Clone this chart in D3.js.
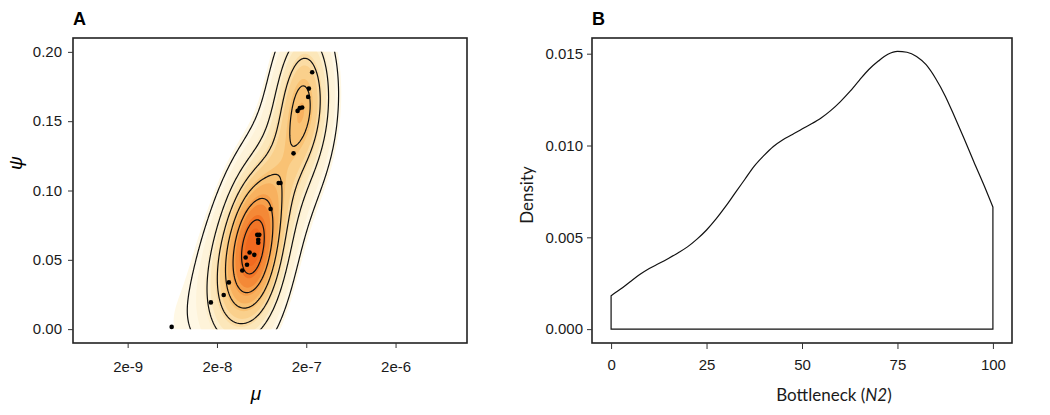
<!DOCTYPE html>
<html>
<head>
<meta charset="utf-8">
<script src="https://cdn.jsdelivr.net/npm/d3@7"></script>
<style>
  body { margin: 0; background: #fff; }
  svg { display: block; }
  .tick line { stroke: #333; }
</style>
</head>
<body>
<svg id="chart" width="1050" height="415"></svg>
<script>
// panel A: posterior samples (mu, psi)
var muValues = [6.22e-9, 1.71e-8, 2.38e-8, 2.72e-8, 3.84e-8, 4.34e-8, 4.19e-8, 4.64e-8,
                5.24e-8, 5.65e-8, 5.96e-8, 5.80e-8, 5.80e-8, 7.98e-8, 9.82e-8, 1.03e-7,
                1.44e-7, 1.60e-7, 1.69e-7, 1.80e-7, 2.10e-7, 2.14e-7, 2.33e-7];
var psiValues = [0.0016, 0.0193, 0.0246, 0.0337, 0.0423, 0.0464, 0.0517, 0.0553,
                 0.0536, 0.0680, 0.0680, 0.0644, 0.0624, 0.0867, 0.1054, 0.1054,
                 0.1268, 0.1574, 0.1594, 0.1599, 0.1675, 0.1735, 0.1853];
var muTicks = [2e-9, 2e-8, 2e-7, 2e-6];
var psiTicks = [0, 0.05, 0.10, 0.15, 0.20];

// panel B: density of bottleneck N2
var bottleneck = [0, 2.5, 5, 7.5, 10, 12.5, 15, 17.5, 20, 22.5, 25, 27.5, 30, 32.5, 35, 37.5,
                  40, 42.5, 45, 47.5, 50, 52.5, 55, 57.5, 60, 62.5, 65, 67.5, 70, 72.5, 75,
                  77.5, 80, 82.5, 85, 87.5, 90, 92.5, 95, 97.5, 100];
var density = [0.00182, 0.00218, 0.00258, 0.00297, 0.00330, 0.00357, 0.00385, 0.00415,
               0.00448, 0.00490, 0.00540, 0.00600, 0.00668, 0.00742, 0.00815, 0.00888,
               0.00945, 0.00995, 0.01032, 0.01060, 0.01090, 0.01118, 0.01150, 0.01190,
               0.01238, 0.01293, 0.01355, 0.01414, 0.01460, 0.01497, 0.01513, 0.01508,
               0.01485, 0.01440, 0.01365, 0.01270, 0.01155, 0.01036, 0.00912, 0.00792, 0.00665];
var bottleneckTicks = [0, 25, 50, 75, 100];
var densityTicks = [0, 0.005, 0.010, 0.015];

var svg = d3.select("#chart");
var pA = {left: 73, right: 467, top: 38, bottom: 343};
var pB = {left: 592, right: 1012, top: 38, bottom: 343};
var tickFont = "15px 'Liberation Sans', Arial, sans-serif";

function styleAxis(g) {
  g.select(".domain").remove();
  g.selectAll(".tick text").style("font", tickFont).style("fill", "#1a1a1a");
}

// ---------- panel A ----------
var logMin = -9.311, logMax = -4.899;
var x = d3.scaleLog().domain([Math.pow(10, logMin), Math.pow(10, logMax)]).range([pA.left, pA.right]);
var xl = d3.scaleLinear().domain([logMin, logMax]).range([pA.left, pA.right]);
var y = d3.scaleLinear().domain([-0.01, 0.21]).range([pA.bottom, pA.top]);

var gA = svg.append("g");

svg.append("clipPath").attr("id", "clipA")
  .append("rect")
    .attr("x", pA.left).attr("width", pA.right - pA.left)
    .attr("y", y(0.2)).attr("height", y(0) - y(0.2));

// 2d kernel density in (log10 mu, psi), normal-reference bandwidth
function bw(v) {
  var s = v.slice().sort(d3.ascending);
  var iqr = d3.quantile(s, 0.75) - d3.quantile(s, 0.25);
  return 1.06 * Math.min(d3.deviation(v), iqr / 1.34) * Math.pow(v.length, -0.2);
}
var lmu = muValues.map(Math.log10);
var hx = bw(lmu) * 1.0, hy = bw(psiValues) * 1.2;
var nx = 220, ny = 220;
var gy0 = -0.015, gy1 = 0.215;
var sx = (logMax - logMin) / (nx - 1), sy = (gy1 - gy0) / (ny - 1);
var z = new Float64Array(nx * ny);
for (var j = 0; j < ny; j++) {
  var gy = gy0 + j * sy;
  for (var i = 0; i < nx; i++) {
    var gx = logMin + i * sx, s = 0;
    for (var k = 0; k < lmu.length; k++) {
      var u = (gx - lmu[k]) / hx, w = (gy - psiValues[k]) / hy;
      s += Math.exp(-0.5 * (u * u + w * w));
    }
    z[j * nx + i] = s / (2 * Math.PI * hx * hy * lmu.length);
  }
}
var zmax = d3.max(z);
var step = zmax / 6.6;

var gridPath = d3.geoPath(d3.geoTransform({
  point: function(cx, cy) {
    this.stream.point(xl(logMin + (cx - 0.5) * sx), y(gy0 + (cy - 0.5) * sy));
  }
}));

var fillLevels = d3.range(1.6, 14, 1).map(function(d) { return d * step / 2; });
var fillColor = d3.scaleLinear()
    .domain([0.1, 0.3, 0.45, 0.6, 0.75, 0.85, 1])
    .range(["#fff9e8", "#fdedc9", "#fbd99c", "#f9bd6c", "#f69a45", "#f37a2a", "#f0621a"]);

gA.append("g").attr("clip-path", "url(#clipA)")
  .selectAll("path")
    .data(d3.contours().size([nx, ny]).thresholds(fillLevels)(z))
  .enter().append("path")
    .attr("d", gridPath)
    .attr("fill", function(d) { return fillColor(d.value / zmax); })
    .attr("stroke", "none");

var lineLevels = d3.range(1, 7).map(function(d) { return d * step; });
gA.append("g").attr("clip-path", "url(#clipA)")
  .selectAll("path")
    .data(d3.contours().size([nx, ny]).thresholds(lineLevels)(z))
  .enter().append("path")
    .attr("d", gridPath)
    .attr("fill", "none")
    .attr("stroke", "#111")
    .attr("stroke-width", 1.2);

gA.append("g").selectAll("circle")
    .data(d3.range(muValues.length))
  .enter().append("circle")
    .attr("cx", function(i) { return x(muValues[i]); })
    .attr("cy", function(i) { return y(psiValues[i]); })
    .attr("r", 2.3)
    .attr("fill", "#000");

gA.append("rect")
    .attr("x", pA.left).attr("y", pA.top)
    .attr("width", pA.right - pA.left).attr("height", pA.bottom - pA.top)
    .attr("fill", "none").attr("stroke", "#222").attr("stroke-width", 1.6);

gA.append("g")
    .attr("transform", "translate(" + pA.left + ",0)")
    .call(d3.axisLeft(y).tickValues(psiTicks).tickFormat(d3.format(".2f")).tickSize(5).tickPadding(6))
    .call(styleAxis);

gA.append("g")
    .attr("transform", "translate(0," + pA.bottom + ")")
    .call(d3.axisBottom(x).tickValues(muTicks).tickFormat(d3.format(".0e")).tickSize(5).tickPadding(13))
    .call(styleAxis);

gA.append("text")
    .attr("x", pA.left).attr("y", 25)
    .style("font", "bold 18px 'Liberation Sans', Arial, sans-serif")
    .text("A");

gA.append("text")
    .attr("transform", "translate(22,163) rotate(-90)")
    .attr("text-anchor", "middle")
    .style("font", "italic 19px 'Liberation Sans', Arial, sans-serif")
    .text("ψ");

gA.append("text")
    .attr("x", 256).attr("y", 400)
    .attr("text-anchor", "middle")
    .style("font", "italic 19px 'Liberation Sans', Arial, sans-serif")
    .text("μ");

// ---------- panel B ----------
var xb = d3.scaleLinear().domain([-5, 105]).range([pB.left, pB.right]);
var yb = d3.scaleLinear().domain([-0.000755, 0.015855]).range([pB.bottom, pB.top]);

var gB = svg.append("g");

var curvePath = d3.line()
    .x(function(i) { return xb(bottleneck[i]); })
    .y(function(i) { return yb(density[i]); })
    .curve(d3.curveMonotoneX)(d3.range(bottleneck.length));

gB.append("path")
    .attr("d", "M" + xb(0) + "," + yb(0) + "L" + curvePath.slice(1) +
               "L" + xb(100) + "," + yb(0) + "Z")
    .attr("fill", "none")
    .attr("stroke", "#111")
    .attr("stroke-width", 1.2);

gB.append("rect")
    .attr("x", pB.left).attr("y", pB.top)
    .attr("width", pB.right - pB.left).attr("height", pB.bottom - pB.top)
    .attr("fill", "none").attr("stroke", "#222").attr("stroke-width", 1.6);

gB.append("g")
    .attr("transform", "translate(" + pB.left + ",0)")
    .call(d3.axisLeft(yb).tickValues(densityTicks).tickFormat(d3.format(".3f")).tickSize(5).tickPadding(4))
    .call(styleAxis);

gB.append("g")
    .attr("transform", "translate(0," + pB.bottom + ")")
    .call(d3.axisBottom(xb).tickValues(bottleneckTicks).tickFormat(d3.format("d")).tickSize(6).tickPadding(10))
    .call(styleAxis);

gB.append("text")
    .attr("x", pB.left).attr("y", 25)
    .style("font", "bold 18px 'Liberation Sans', Arial, sans-serif")
    .text("B");

gB.append("text")
    .attr("transform", "translate(533,195) rotate(-90)")
    .attr("text-anchor", "middle")
    .style("font", "17px Lato, 'Open Sans', sans-serif")
    .style("fill", "#1a1a1a")
    .text("Density");

var xt = gB.append("text")
    .attr("x", 834).attr("y", 401)
    .attr("text-anchor", "middle")
    .style("font", "17px Lato, 'Open Sans', sans-serif")
    .style("fill", "#1a1a1a");
xt.append("tspan").text("Bottleneck (");
xt.append("tspan").style("font-style", "italic").text("N2");
xt.append("tspan").text(")");
</script>
</body>
</html>
